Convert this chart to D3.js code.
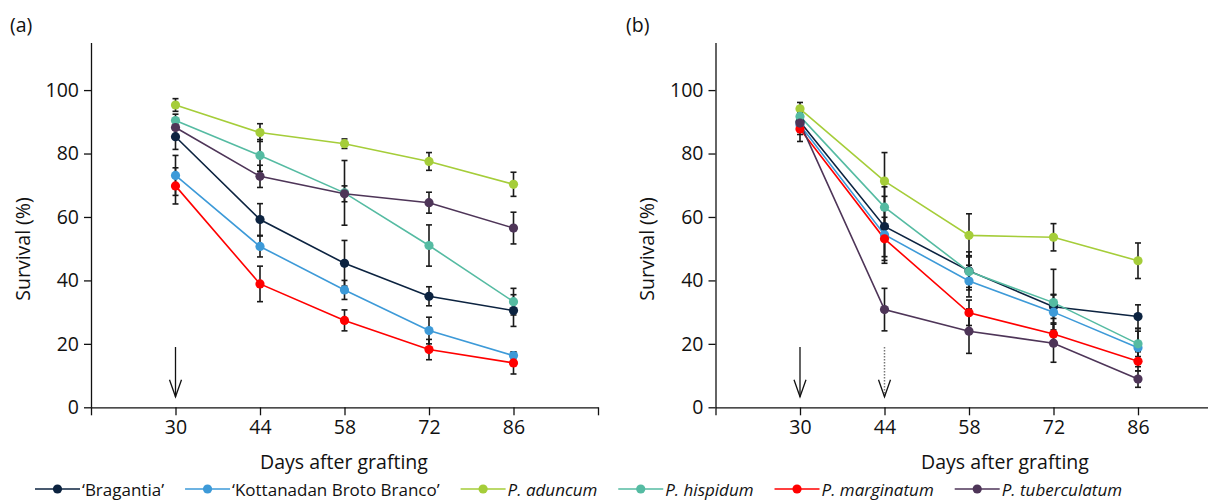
<!DOCTYPE html>
<meta charset="utf-8">
<style>
body { margin: 0; background: #fff; }
text { font-family: "Open Sans", "Noto Sans", sans-serif; fill: #111; }
.axis path, .axis line { stroke: #111; stroke-width: 1.3; }
.axis text { font-size: 19.5px; }
.legend text { font-family: "Open Sans", sans-serif; font-size: 17px; }
</style>
<body></body>
<script src="https://d3js.org/d3.v7.min.js"></script>
<script>
// days after grafting
var days = [30, 44, 58, 72, 86];
var xTicks = [16, 30, 44, 58, 72, 86, 100];
var yTicks = [0, 20, 40, 60, 80, 100];

var seriesNames = ["\u2018Bragantia\u2019", "\u2018Kottanadan Broto Branco\u2019", "P. aduncum", "P. hispidum", "P. marginatum", "P. tuberculatum"];
var seriesItalic = [false, false, true, true, true, true];
var seriesColors = ["#0c2340", "#3d9ad8", "#a5cd39", "#55bba2", "#ff0000", "#4e3558"];

// panel (a) means and error bars, one row per series
var panelAMeans = [
  [85.3, 59.2, 45.4, 35.0, 30.5],
  [73.1, 50.7, 37.0, 24.2, 16.3],
  [95.3, 86.6, 83.1, 77.5, 70.3],
  [90.4, 79.4, 67.6, 51.0, 33.3],
  [69.8, 38.9, 27.4, 18.2, 14.0],
  [88.2, 72.8, 67.3, 64.5, 56.5]
];
var panelAErrs = [
  [4.0, 5.0, 7.2, 3.0, 5.0],
  [6.3, 3.3, 3.0, 4.2, 1.0],
  [2.0, 2.8, 1.5, 2.8, 3.8],
  [2.0, 5.0, 10.2, 6.5, 4.2],
  [5.7, 5.6, 3.3, 3.2, 3.5],
  [2.5, 3.5, 2.5, 3.3, 5.0]
];

// panel (b)
var panelBMeans = [
  [90.0, 57.0, 43.0, 31.7, 28.6],
  [89.0, 54.4, 39.8, 30.0, 18.8],
  [94.1, 71.3, 54.2, 53.6, 46.2],
  [91.7, 63.1, 42.8, 33.0, 20.0],
  [87.7, 53.1, 29.8, 23.1, 14.5],
  [89.6, 30.8, 24.0, 20.2, 8.9]
];
var panelBErrs = [
  [3.0, 9.5, 6.0, 3.7, 3.7],
  [3.0, 9.0, 5.0, 5.6, 6.0],
  [2.0, 9.0, 6.8, 4.3, 5.6],
  [2.5, 6.4, 5.0, 10.5, 4.0],
  [3.9, 6.8, 4.0, 3.5, 3.0],
  [2.5, 6.7, 7.0, 6.0, 2.6]
];

var arrowsA = [{day: 30, dotted: false}];
var arrowsB = [{day: 30, dotted: false}, {day: 44, dotted: true}];

var svg = d3.select("body").append("svg")
    .attr("width", 1208)
    .attr("height", 501);

var y = d3.scaleLinear().domain([0, 115]).range([407.3, 42.5]);

function drawPanel(left, label, labelX, means, errs, arrows, titleX) {
  var x = d3.scaleLinear().domain([16, 100]).range([left, left + 507]);
  var g = svg.append("g");

  g.append("text").attr("x", labelX).attr("y", 32)
    .style("font-size", "19.5px").text(label);

  // y axis
  g.append("g").attr("class", "axis")
    .attr("transform", "translate(" + left + ",0)")
    .call(d3.axisLeft(y).tickValues(yTicks).tickSize(7).tickPadding(5).tickSizeOuter(0));

  // x axis
  g.append("g").attr("class", "axis")
    .attr("transform", "translate(0," + y(0) + ")")
    .call(d3.axisBottom(x).tickValues(xTicks).tickSize(8).tickPadding(5).tickSizeOuter(0)
      .tickFormat(function(d) { return days.indexOf(d) >= 0 ? d : ""; }));

  g.append("text")
    .attr("transform", "translate(" + (left - 69) + "," + 249 + ") rotate(-90)")
    .attr("text-anchor", "middle").attr("dominant-baseline", "central")
    .style("font-size", "19.5px").text("Survival (%)");

  g.append("text").attr("x", titleX).attr("y", 469)
    .attr("text-anchor", "middle").style("font-size", "19.5px")
    .text("Days after grafting");

  // arrows
  arrows.forEach(function(a) {
    var ax = x(a.day);
    g.append("line").attr("x1", ax).attr("x2", ax)
      .attr("y1", y(19)).attr("y2", y(3.3))
      .attr("stroke", a.dotted ? "#777" : "#111")
      .attr("stroke-width", a.dotted ? 1.5 : 1.3)
      .attr("stroke-dasharray", a.dotted ? "1.5,1.5" : null);
    g.append("path")
      .attr("d", "M" + (ax - 6) + "," + (y(3.3) - 17) + "L" + ax + "," + y(3.3) + "L" + (ax + 6) + "," + (y(3.3) - 17))
      .attr("fill", "none").attr("stroke", "#111").attr("stroke-width", 1.3);
  });

  var line = d3.line()
    .x(function(d, i) { return x(days[i]); })
    .y(function(d) { return y(d); });

  means.forEach(function(m, s) {
    g.append("path").datum(m)
      .attr("d", line).attr("fill", "none")
      .attr("stroke", seriesColors[s]).attr("stroke-width", 1.6);
  });

  means.forEach(function(m, s) {
    var eg = g.append("g").attr("stroke", "#1a1a1a").attr("stroke-width", 1.6);
    m.forEach(function(v, i) {
      var cx = x(days[i]), e = errs[s][i];
      eg.append("line").attr("x1", cx).attr("x2", cx).attr("y1", y(v - e)).attr("y2", y(v + e));
      eg.append("line").attr("x1", cx - 3).attr("x2", cx + 3).attr("y1", y(v - e)).attr("y2", y(v - e));
      eg.append("line").attr("x1", cx - 3).attr("x2", cx + 3).attr("y1", y(v + e)).attr("y2", y(v + e));
    });
  });

  means.forEach(function(m, s) {
    g.selectAll(null).data(m).enter().append("circle")
      .attr("cx", function(d, i) { return x(days[i]); })
      .attr("cy", function(d) { return y(d); })
      .attr("r", 4.6)
      .attr("fill", seriesColors[s]);
  });
}

drawPanel(91, "(a)", 10, panelAMeans, panelAErrs, arrowsA, 344);
drawPanel(715.5, "(b)", 626, panelBMeans, panelBErrs, arrowsB, 1005);

// legend
var legend = svg.append("g").attr("class", "legend");
var lx = 35, ly = 489;
seriesNames.forEach(function(name, s) {
  var item = legend.append("g");
  item.append("line").attr("x1", lx).attr("x2", lx + 45).attr("y1", ly).attr("y2", ly)
    .attr("stroke", seriesColors[s]).attr("stroke-width", 1.6);
  item.append("circle").attr("cx", lx + 22.5).attr("cy", ly).attr("r", 4.6).attr("fill", seriesColors[s]);
  var t = item.append("text").attr("x", lx + 47).attr("y", ly)
    .attr("dominant-baseline", "central")
    .style("font-style", seriesItalic[s] ? "italic" : "normal")
    .text(name);
  lx += 47 + t.node().getComputedTextLength() + 21;
});
</script>
